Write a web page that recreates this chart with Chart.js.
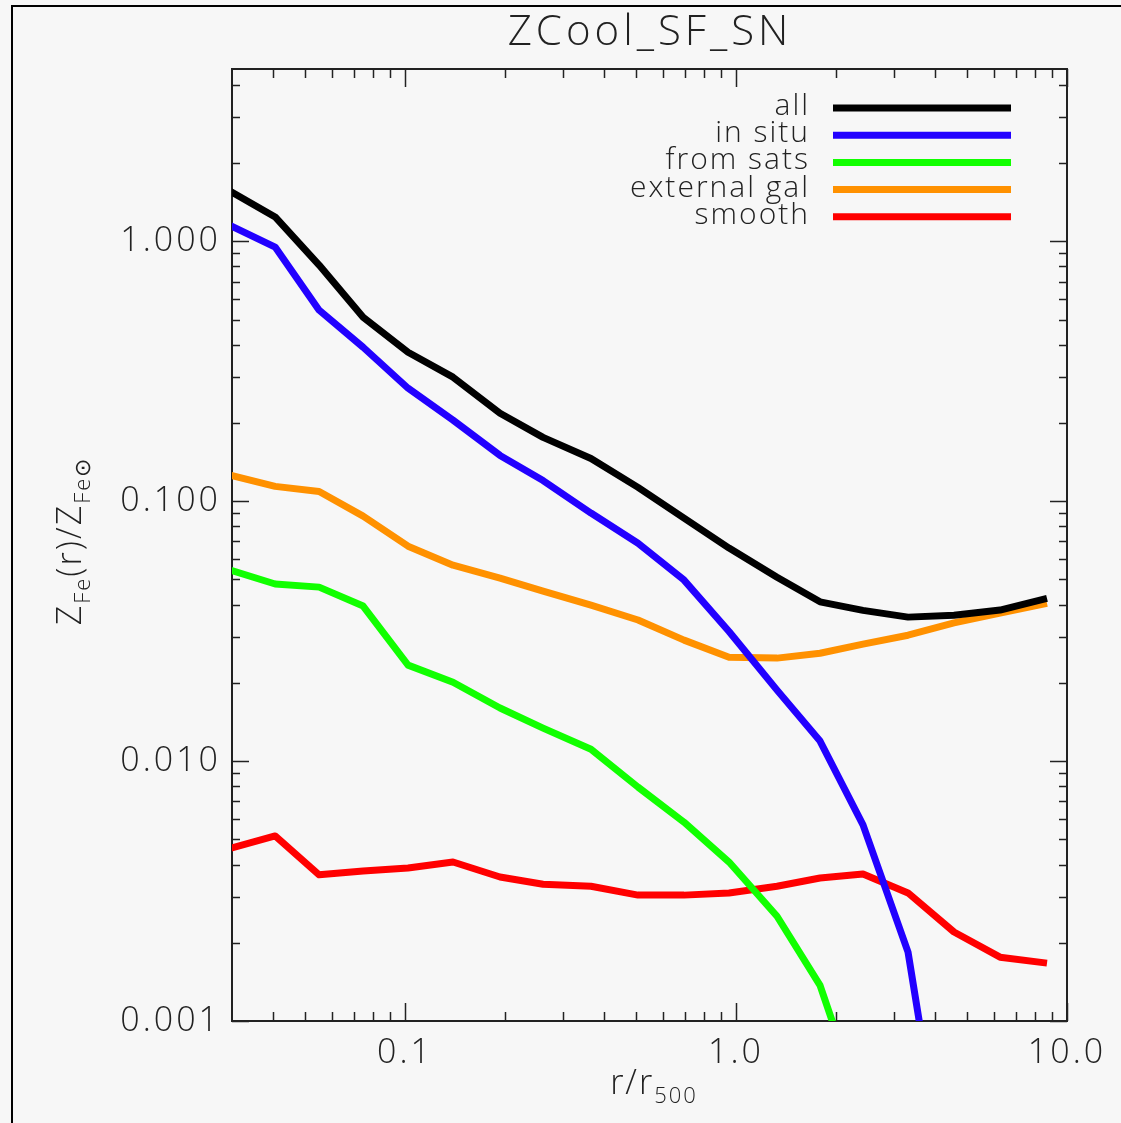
<!DOCTYPE html>
<html>
<head>
<meta charset="utf-8">
<script src="https://cdn.jsdelivr.net/npm/chart.js"></script>
<style>
  html, body { margin: 0; padding: 0; background: #f7f7f7; }
  canvas { display: block; }
</style>
</head>
<body>
<canvas id="zfeChart" width="1121" height="1123"></canvas>
<script>
// radial bins in units of r500
const radius = [0.0296, 0.0405, 0.0550, 0.0747, 0.1021, 0.1396, 0.1936, 0.2612, 0.3645, 0.5057,
                0.6965, 0.9525, 1.330, 1.794, 2.419, 3.309, 4.556, 6.277, 8.701];

// iron abundance profiles, Z_Fe / Z_Fe,sun
const zAll      = [1.56, 1.24, 0.81, 0.51, 0.374, 0.30, 0.218, 0.176, 0.146, 0.113,
                   0.086, 0.066, 0.051, 0.041, 0.038, 0.0358, 0.0364, 0.0381, 0.0423];
const zInSitu   = [1.15, 0.95, 0.543, 0.391, 0.272, 0.205, 0.150, 0.120, 0.090, 0.0689,
                   0.0497, 0.0315, 0.01875, 0.01194, 0.00568, 0.00184, 0.00015, null, null];
const zFromSats = [0.0543, 0.048, 0.0467, 0.0395, 0.0234, 0.0201, 0.0160, 0.0134, 0.0111, 0.00794,
                   0.00582, 0.00409, 0.00253, 0.00137, 0.00045, null, null, null, null];
const zExternal = [0.126, 0.114, 0.109, 0.0876, 0.0671, 0.0567, 0.0506, 0.0451, 0.0398, 0.0349,
                   0.0292, 0.0251, 0.0249, 0.0260, 0.0282, 0.0305, 0.0340, 0.0371, 0.0405];
const zSmooth   = [0.00461, 0.00515, 0.00365, 0.00378, 0.00388, 0.00409, 0.00358, 0.00336, 0.00330, 0.00305,
                   0.00305, 0.00311, 0.00330, 0.00355, 0.00368, 0.00311, 0.00220, 0.00176, 0.00167];

const seriesNames  = ["all", "in situ", "from sats", "external gal", "smooth"];
const seriesValues = [zAll, zInSitu, zFromSats, zExternal, zSmooth];
const seriesColors = ["#000000", "#2200ff", "#11ff00", "#ff9100", "#ff0000"];

const xTicks = [0.1, 1, 10];
const xMinor = [0.04, 0.05, 0.06, 0.07, 0.08, 0.09, 0.2, 0.3, 0.4, 0.5, 0.6, 0.7, 0.8, 0.9, 2, 3, 4, 5, 6, 7, 8, 9];
const yTicks = [0.001, 0.01, 0.1, 1];
const yMinor = [0.002, 0.003, 0.004, 0.005, 0.006, 0.007, 0.008, 0.009,
                0.02, 0.03, 0.04, 0.05, 0.06, 0.07, 0.08, 0.09,
                0.2, 0.3, 0.4, 0.5, 0.6, 0.7, 0.8, 0.9, 2, 3, 4];

const FONT = "'Open Sans', 'DejaVu Sans', sans-serif";
const INK = "#222222";

// page frame, axis box with inward ticks on all four sides
const framePlugin = {
  id: "frame",
  beforeDraw(chart) {
    const ctx = chart.ctx;
    ctx.save();
    ctx.fillStyle = "#f7f7f7";
    ctx.fillRect(0, 0, chart.width, chart.height);
    ctx.strokeStyle = "#000";
    ctx.lineWidth = 2;
    ctx.beginPath();
    ctx.moveTo(12, chart.height);
    ctx.lineTo(12, 6);
    ctx.lineTo(chart.width, 6);
    ctx.stroke();
    ctx.restore();
    ctx.letterSpacing = "3px";
  },
  beforeDatasetsDraw(chart) {
    const ctx = chart.ctx;
    const a = chart.chartArea;
    const xs = chart.scales.x, ys = chart.scales.y;
    ctx.save();
    ctx.strokeStyle = INK;
    ctx.lineWidth = 2;
    ctx.strokeRect(a.left, a.top, a.right - a.left, a.bottom - a.top);
    ctx.lineWidth = 1.5;
    ctx.beginPath();
    const xMark = (v, len) => {
      const px = Math.round(xs.getPixelForValue(v)) + 0.5;
      ctx.moveTo(px, a.bottom); ctx.lineTo(px, a.bottom - len);
      ctx.moveTo(px, a.top); ctx.lineTo(px, a.top + len);
    };
    const yMark = (v, len) => {
      const py = Math.round(ys.getPixelForValue(v)) + 0.5;
      ctx.moveTo(a.left, py); ctx.lineTo(a.left + len, py);
      ctx.moveTo(a.right, py); ctx.lineTo(a.right - len, py);
    };
    xTicks.forEach(v => xMark(v, 18));
    xMinor.forEach(v => xMark(v, 9));
    yTicks.forEach(v => yMark(v, 17));
    yMinor.forEach(v => yMark(v, 8));
    ctx.stroke();
    ctx.restore();
  },
  afterDraw(chart) {
    const ctx = chart.ctx;
    ctx.save();
    ctx.fillStyle = INK;
    ctx.textBaseline = "alphabetic";

    // title
    ctx.font = "300 42px " + FONT;
    ctx.letterSpacing = "4px";
    ctx.textAlign = "center";
    ctx.fillText("ZCool_SF_SN", 650, 45);

    // legend, labels right-aligned left of their line samples
    ctx.font = "300 30px " + FONT;
    ctx.letterSpacing = "2px";
    ctx.textAlign = "right";
    chart.data.datasets.forEach((ds, i) => {
      const y = 108 + i * 27.2;
      ctx.fillText(ds.label, 810, y + 7);
      ctx.strokeStyle = ds.borderColor;
      ctx.lineWidth = 7;
      ctx.beginPath();
      ctx.moveTo(833, y);
      ctx.lineTo(1011, y);
      ctx.stroke();
    });

    // axis titles with subscripts
    const pieces = (parts) => {
      const widths = parts.map(p => { ctx.font = "300 " + p.size + "px " + FONT; return ctx.measureText(p.text).width; });
      let x = -widths.reduce((s, w) => s + w, 0) / 2;
      ctx.textAlign = "left";
      parts.forEach((p, i) => {
        ctx.font = "300 " + p.size + "px " + FONT;
        ctx.fillText(p.text, x, p.dy);
        x += widths[i];
      });
    };
    ctx.letterSpacing = "2px";
    ctx.save();
    ctx.translate(654, 1094);
    pieces([{ text: "r/r", size: 34, dy: 0 }, { text: "500", size: 22, dy: 9 }]);
    ctx.restore();

    ctx.save();
    ctx.translate(81, 541);
    ctx.rotate(-Math.PI / 2);
    pieces([
      { text: "Z", size: 34, dy: 0 }, { text: "Fe", size: 22, dy: 9 },
      { text: "(r)/Z", size: 34, dy: 0 }, { text: "Fe\u2299", size: 22, dy: 9 }
    ]);
    ctx.restore();
    ctx.restore();
  }
};

new Chart(document.getElementById("zfeChart"), {
  type: "line",
  data: {
    datasets: seriesNames.map((name, i) => ({
      label: name,
      data: radius.map((r, k) => ({ x: r, y: seriesValues[i][k] })),
      borderColor: seriesColors[i],
      backgroundColor: seriesColors[i],
      borderWidth: 7,
      borderJoinStyle: "round",
      pointRadius: 0,
      tension: 0,
      spanGaps: false,
      clip: 0
    }))
  },
  options: {
    responsive: false,
    animation: false,
    devicePixelRatio: 1,
    layout: { padding: { top: 69, right: 54, left: 0, bottom: 0 } },
    plugins: { legend: { display: false }, tooltip: { enabled: false } },
    scales: {
      x: {
        type: "logarithmic",
        min: 0.03,
        max: 10,
        grid: { display: false },
        border: { display: false },
        afterBuildTicks: s => { s.ticks = xTicks.map(v => ({ value: v })); },
        afterFit: s => { s.height = 102; },
        ticks: {
          callback: v => Number(v).toFixed(1),
          font: { family: FONT, size: 34, weight: 300 },
          color: INK,
          padding: 4,
          maxRotation: 0,
          autoSkip: false
        }
      },
      y: {
        type: "logarithmic",
        min: 0.001,
        max: 4.6,
        grid: { display: false },
        border: { display: false },
        afterBuildTicks: s => { s.ticks = yTicks.map(v => ({ value: v })); },
        afterFit: s => { s.width = 232; },
        ticks: {
          callback: v => Number(v).toFixed(3),
          font: { family: FONT, size: 34, weight: 300 },
          color: INK,
          padding: 3,
          autoSkip: false
        }
      }
    }
  },
  plugins: [framePlugin]
});
</script>
</body>
</html>
